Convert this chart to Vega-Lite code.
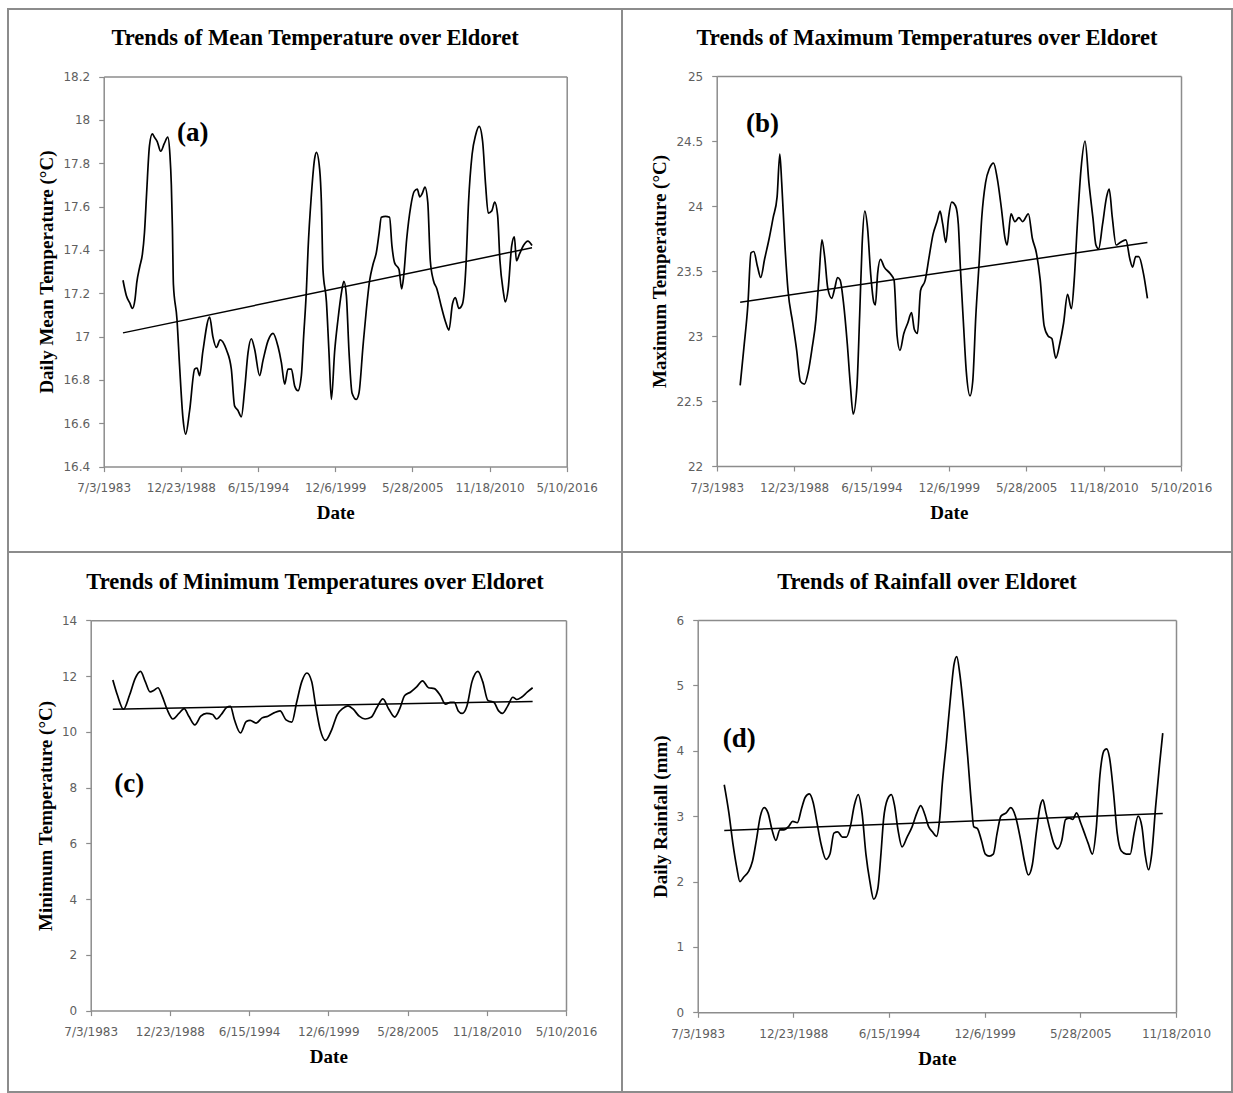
{
  "$schema": "https://vega.github.io/schema/vega-lite/v6.json",
  "padding": {"left": 7, "top": 8, "right": 0, "bottom": 0},
  "background": "white",
  "datasets": {
    "meanTemp": [
      {"date": "1984-11-14", "value": 17.26}, {"date": "1985-02-08", "value": 17.19}, {"date": "1985-05-08", "value": 17.155},
      {"date": "1985-07-19", "value": 17.13}, {"date": "1985-09-20", "value": 17.17}, {"date": "1985-11-07", "value": 17.25},
      {"date": "1986-01-19", "value": 17.32}, {"date": "1986-04-01", "value": 17.38}, {"date": "1986-05-25", "value": 17.48},
      {"date": "1986-07-19", "value": 17.66}, {"date": "1986-10-01", "value": 17.88}, {"date": "1986-12-13", "value": 17.935},
      {"date": "1987-02-07", "value": 17.92}, {"date": "1987-04-20", "value": 17.9}, {"date": "1987-07-19", "value": 17.855},
      {"date": "1987-10-19", "value": 17.89}, {"date": "1988-01-19", "value": 17.92}, {"date": "1988-03-14", "value": 17.84},
      {"date": "1988-04-20", "value": 17.7}, {"date": "1988-05-18", "value": 17.5}, {"date": "1988-06-13", "value": 17.24},
      {"date": "1988-09-13", "value": 17.08}, {"date": "1988-11-21", "value": 16.86}, {"date": "1989-02-17", "value": 16.62},
      {"date": "1989-04-27", "value": 16.55}, {"date": "1989-08-08", "value": 16.66}, {"date": "1989-12-15", "value": 16.85},
      {"date": "1990-02-15", "value": 16.855}, {"date": "1990-04-23", "value": 16.82}, {"date": "1990-07-15", "value": 16.93},
      {"date": "1991-01-08", "value": 17.09}, {"date": "1991-04-01", "value": 17.0}, {"date": "1991-07-01", "value": 16.95},
      {"date": "1991-10-08", "value": 16.985}, {"date": "1992-03-15", "value": 16.94}, {"date": "1992-07-23", "value": 16.85},
      {"date": "1992-10-15", "value": 16.68}, {"date": "1993-01-08", "value": 16.66}, {"date": "1993-04-08", "value": 16.63},
      {"date": "1993-07-05", "value": 16.76}, {"date": "1993-09-28", "value": 16.925}, {"date": "1993-12-23", "value": 16.99},
      {"date": "1994-03-20", "value": 16.94}, {"date": "1994-07-26", "value": 16.82}, {"date": "1994-10-22", "value": 16.89},
      {"date": "1995-02-28", "value": 16.98}, {"date": "1995-07-08", "value": 17.015}, {"date": "1995-11-14", "value": 16.955},
      {"date": "1996-02-10", "value": 16.88}, {"date": "1996-05-07", "value": 16.78}, {"date": "1996-07-30", "value": 16.85},
      {"date": "1996-10-26", "value": 16.85}, {"date": "1997-01-23", "value": 16.77}, {"date": "1997-04-15", "value": 16.75},
      {"date": "1997-07-12", "value": 16.82}, {"date": "1997-09-09", "value": 17.0}, {"date": "1997-11-21", "value": 17.22},
      {"date": "1998-01-01", "value": 17.4}, {"date": "1998-03-27", "value": 17.65}, {"date": "1998-06-20", "value": 17.82},
      {"date": "1998-08-07", "value": 17.85}, {"date": "1998-10-30", "value": 17.77}, {"date": "1998-12-13", "value": 17.62},
      {"date": "1999-01-23", "value": 17.31}, {"date": "1999-04-23", "value": 17.16}, {"date": "1999-06-27", "value": 16.93},
      {"date": "1999-08-29", "value": 16.71}, {"date": "1999-11-21", "value": 16.93}, {"date": "2000-02-17", "value": 17.08},
      {"date": "2000-05-14", "value": 17.2}, {"date": "2000-07-19", "value": 17.255}, {"date": "2000-09-20", "value": 17.19},
      {"date": "2000-11-28", "value": 16.93}, {"date": "2001-02-14", "value": 16.74}, {"date": "2001-06-06", "value": 16.71},
      {"date": "2001-08-14", "value": 16.74}, {"date": "2001-11-25", "value": 16.955}, {"date": "2002-02-21", "value": 17.125},
      {"date": "2002-05-18", "value": 17.26}, {"date": "2002-08-08", "value": 17.33}, {"date": "2002-11-08", "value": 17.39},
      {"date": "2003-01-19", "value": 17.48}, {"date": "2003-03-15", "value": 17.55}, {"date": "2003-07-01", "value": 17.555},
      {"date": "2003-10-15", "value": 17.55}, {"date": "2003-12-15", "value": 17.42}, {"date": "2004-02-23", "value": 17.34},
      {"date": "2004-06-15", "value": 17.31}, {"date": "2004-08-23", "value": 17.22}, {"date": "2004-10-15", "value": 17.28},
      {"date": "2005-01-01", "value": 17.45}, {"date": "2005-04-15", "value": 17.6}, {"date": "2005-07-15", "value": 17.67},
      {"date": "2005-10-01", "value": 17.68}, {"date": "2005-12-06", "value": 17.645}, {"date": "2006-02-08", "value": 17.66},
      {"date": "2006-04-20", "value": 17.69}, {"date": "2006-07-01", "value": 17.62}, {"date": "2006-09-05", "value": 17.35},
      {"date": "2006-11-23", "value": 17.26}, {"date": "2007-02-23", "value": 17.22}, {"date": "2007-06-15", "value": 17.14},
      {"date": "2007-10-01", "value": 17.07}, {"date": "2008-01-01", "value": 17.03}, {"date": "2008-04-01", "value": 17.15},
      {"date": "2008-06-15", "value": 17.18}, {"date": "2008-09-15", "value": 17.13}, {"date": "2008-12-15", "value": 17.15},
      {"date": "2009-03-15", "value": 17.32}, {"date": "2009-05-23", "value": 17.62}, {"date": "2009-08-23", "value": 17.84},
      {"date": "2009-11-23", "value": 17.93}, {"date": "2010-02-23", "value": 17.97}, {"date": "2010-05-23", "value": 17.9},
      {"date": "2010-08-08", "value": 17.7}, {"date": "2010-10-15", "value": 17.57}, {"date": "2011-01-15", "value": 17.58},
      {"date": "2011-04-01", "value": 17.62}, {"date": "2011-06-15", "value": 17.56}, {"date": "2011-08-15", "value": 17.35},
      {"date": "2011-11-08", "value": 17.21}, {"date": "2012-01-01", "value": 17.16}, {"date": "2012-03-15", "value": 17.22},
      {"date": "2012-06-15", "value": 17.42}, {"date": "2012-08-23", "value": 17.46}, {"date": "2012-10-15", "value": 17.35},
      {"date": "2013-01-01", "value": 17.38}, {"date": "2013-04-15", "value": 17.42}, {"date": "2013-08-08", "value": 17.44},
      {"date": "2013-11-23", "value": 17.42}
    ],
    "meanTrend": [
      {"date": "1984-11-14", "value": 17.017}, {"date": "2013-11-23", "value": 17.41}
    ],
    "maxTemp": [
      {"date": "1985-02-28", "value": 22.62}, {"date": "1985-06-05", "value": 22.91}, {"date": "1985-09-16", "value": 23.24},
      {"date": "1985-12-05", "value": 23.64}, {"date": "1986-02-14", "value": 23.65}, {"date": "1986-05-25", "value": 23.53},
      {"date": "1986-08-14", "value": 23.45}, {"date": "1986-11-21", "value": 23.59}, {"date": "1987-03-20", "value": 23.75},
      {"date": "1987-07-01", "value": 23.91}, {"date": "1987-10-11", "value": 24.07}, {"date": "1987-12-20", "value": 24.4},
      {"date": "1988-02-07", "value": 24.18}, {"date": "1988-04-30", "value": 23.7}, {"date": "1988-07-19", "value": 23.35},
      {"date": "1988-11-18", "value": 23.1}, {"date": "1989-02-28", "value": 22.89}, {"date": "1989-06-06", "value": 22.65},
      {"date": "1989-09-16", "value": 22.63}, {"date": "1989-12-27", "value": 22.73}, {"date": "1990-04-04", "value": 22.91},
      {"date": "1990-07-12", "value": 23.13}, {"date": "1990-09-24", "value": 23.43}, {"date": "1990-12-13", "value": 23.74},
      {"date": "1991-02-21", "value": 23.61}, {"date": "1991-05-11", "value": 23.37}, {"date": "1991-08-22", "value": 23.29},
      {"date": "1991-11-11", "value": 23.37}, {"date": "1992-01-19", "value": 23.45}, {"date": "1992-03-28", "value": 23.43},
      {"date": "1992-06-20", "value": 23.26}, {"date": "1992-09-28", "value": 22.94}, {"date": "1992-12-17", "value": 22.62},
      {"date": "1993-02-28", "value": 22.4}, {"date": "1993-06-06", "value": 22.62}, {"date": "1993-08-14", "value": 23.16},
      {"date": "1993-10-16", "value": 23.7}, {"date": "1993-12-24", "value": 23.96}, {"date": "1994-03-06", "value": 23.83},
      {"date": "1994-05-25", "value": 23.48}, {"date": "1994-08-14", "value": 23.26}, {"date": "1994-09-24", "value": 23.24},
      {"date": "1994-11-21", "value": 23.48}, {"date": "1995-02-03", "value": 23.59}, {"date": "1995-05-11", "value": 23.53},
      {"date": "1995-10-11", "value": 23.48}, {"date": "1996-01-19", "value": 23.43}, {"date": "1996-04-08", "value": 23.0},
      {"date": "1996-06-20", "value": 22.89}, {"date": "1996-09-28", "value": 23.02}, {"date": "1997-01-08", "value": 23.1},
      {"date": "1997-04-15", "value": 23.18}, {"date": "1997-06-27", "value": 23.05}, {"date": "1997-09-16", "value": 23.02},
      {"date": "1997-12-05", "value": 23.35}, {"date": "1998-04-04", "value": 23.43}, {"date": "1998-07-15", "value": 23.61},
      {"date": "1998-10-22", "value": 23.78}, {"date": "1999-02-03", "value": 23.88}, {"date": "1999-04-23", "value": 23.96},
      {"date": "1999-07-01", "value": 23.86}, {"date": "1999-09-20", "value": 23.72}, {"date": "1999-11-28", "value": 23.91},
      {"date": "2000-02-17", "value": 24.03}, {"date": "2000-05-28", "value": 24.0}, {"date": "2000-08-07", "value": 23.86},
      {"date": "2000-09-28", "value": 23.53}, {"date": "2000-12-17", "value": 23.1}, {"date": "2001-02-28", "value": 22.73},
      {"date": "2001-06-06", "value": 22.54}, {"date": "2001-08-14", "value": 22.65}, {"date": "2001-11-03", "value": 23.16},
      {"date": "2002-01-26", "value": 23.56}, {"date": "2002-04-04", "value": 23.91}, {"date": "2002-07-12", "value": 24.18},
      {"date": "2002-10-22", "value": 24.29}, {"date": "2003-02-03", "value": 24.33}, {"date": "2003-05-11", "value": 24.21},
      {"date": "2003-08-22", "value": 23.99}, {"date": "2003-11-28", "value": 23.75}, {"date": "2004-01-19", "value": 23.7},
      {"date": "2004-04-30", "value": 23.94}, {"date": "2004-08-07", "value": 23.88}, {"date": "2004-11-18", "value": 23.91},
      {"date": "2005-02-25", "value": 23.88}, {"date": "2005-07-23", "value": 23.94}, {"date": "2005-11-03", "value": 23.75},
      {"date": "2006-02-14", "value": 23.64}, {"date": "2006-05-25", "value": 23.43}, {"date": "2006-09-02", "value": 23.08},
      {"date": "2006-12-13", "value": 23.0}, {"date": "2007-03-20", "value": 22.98}, {"date": "2007-07-01", "value": 22.83},
      {"date": "2007-10-11", "value": 22.94}, {"date": "2008-01-19", "value": 23.1}, {"date": "2008-04-30", "value": 23.32},
      {"date": "2008-08-07", "value": 23.21}, {"date": "2008-10-19", "value": 23.43}, {"date": "2009-01-08", "value": 23.86},
      {"date": "2009-04-15", "value": 24.29}, {"date": "2009-07-26", "value": 24.5}, {"date": "2009-11-03", "value": 24.18},
      {"date": "2010-02-14", "value": 23.91}, {"date": "2010-05-03", "value": 23.7}, {"date": "2010-07-12", "value": 23.67},
      {"date": "2010-10-22", "value": 23.86}, {"date": "2011-02-03", "value": 24.07}, {"date": "2011-04-11", "value": 24.13},
      {"date": "2011-07-01", "value": 23.91}, {"date": "2011-10-08", "value": 23.7}, {"date": "2012-01-19", "value": 23.72},
      {"date": "2012-06-16", "value": 23.74}, {"date": "2012-09-28", "value": 23.59}, {"date": "2012-12-05", "value": 23.53},
      {"date": "2013-02-25", "value": 23.61}, {"date": "2013-05-14", "value": 23.61}, {"date": "2013-09-13", "value": 23.48},
      {"date": "2013-12-24", "value": 23.29}
    ],
    "maxTrend": [
      {"date": "1985-02-28", "value": 23.26}, {"date": "2013-12-24", "value": 23.72}
    ],
    "minTemp": [
      {"date": "1985-01-12", "value": 11.86}, {"date": "1985-05-11", "value": 11.3}, {"date": "1985-10-08", "value": 10.81},
      {"date": "1986-03-06", "value": 11.3}, {"date": "1986-08-03", "value": 11.93}, {"date": "1986-12-13", "value": 12.17},
      {"date": "1987-04-11", "value": 11.8}, {"date": "1987-08-10", "value": 11.43}, {"date": "1987-11-18", "value": 11.49},
      {"date": "1988-02-25", "value": 11.58}, {"date": "1988-06-06", "value": 11.3}, {"date": "1988-10-11", "value": 10.81},
      {"date": "1989-03-09", "value": 10.46}, {"date": "1989-08-07", "value": 10.66}, {"date": "1989-12-17", "value": 10.83},
      {"date": "1990-04-15", "value": 10.56}, {"date": "1990-09-13", "value": 10.25}, {"date": "1991-02-10", "value": 10.56},
      {"date": "1991-07-08", "value": 10.66}, {"date": "1991-12-05", "value": 10.62}, {"date": "1992-03-14", "value": 10.46},
      {"date": "1992-07-12", "value": 10.62}, {"date": "1992-11-21", "value": 10.87}, {"date": "1993-02-28", "value": 10.91},
      {"date": "1993-06-09", "value": 10.43}, {"date": "1993-11-07", "value": 9.96}, {"date": "1994-04-04", "value": 10.37},
      {"date": "1994-07-12", "value": 10.41}, {"date": "1994-12-09", "value": 10.31}, {"date": "1995-05-08", "value": 10.5},
      {"date": "1995-10-04", "value": 10.56}, {"date": "1996-03-03", "value": 10.68}, {"date": "1996-08-04", "value": 10.75},
      {"date": "1997-01-01", "value": 10.43}, {"date": "1997-05-29", "value": 10.35}, {"date": "1997-09-27", "value": 11.06},
      {"date": "1998-02-03", "value": 11.8}, {"date": "1998-06-13", "value": 12.11}, {"date": "1998-10-12", "value": 11.8},
      {"date": "1999-01-19", "value": 10.93}, {"date": "1999-05-18", "value": 10.06}, {"date": "1999-09-24", "value": 9.69},
      {"date": "2000-02-25", "value": 10.06}, {"date": "2000-07-19", "value": 10.62}, {"date": "2000-11-28", "value": 10.83},
      {"date": "2001-04-16", "value": 10.93}, {"date": "2001-08-25", "value": 10.81}, {"date": "2002-01-23", "value": 10.56},
      {"date": "2002-06-20", "value": 10.46}, {"date": "2002-11-18", "value": 10.52}, {"date": "2003-04-16", "value": 10.87},
      {"date": "2003-09-13", "value": 11.18}, {"date": "2004-02-10", "value": 10.81}, {"date": "2004-07-08", "value": 10.53},
      {"date": "2004-11-07", "value": 10.81}, {"date": "2005-03-17", "value": 11.3}, {"date": "2005-08-15", "value": 11.43},
      {"date": "2006-01-12", "value": 11.61}, {"date": "2006-06-10", "value": 11.83}, {"date": "2006-11-07", "value": 11.58},
      {"date": "2007-04-05", "value": 11.55}, {"date": "2007-09-02", "value": 11.3}, {"date": "2008-01-12", "value": 10.99},
      {"date": "2008-05-12", "value": 11.06}, {"date": "2008-08-18", "value": 11.06}, {"date": "2008-11-28", "value": 10.75},
      {"date": "2009-03-07", "value": 10.66}, {"date": "2009-07-05", "value": 10.93}, {"date": "2009-11-10", "value": 11.8},
      {"date": "2010-04-08", "value": 12.17}, {"date": "2010-08-07", "value": 11.8}, {"date": "2010-12-17", "value": 11.12},
      {"date": "2011-05-15", "value": 11.06}, {"date": "2011-09-13", "value": 10.75}, {"date": "2011-12-21", "value": 10.66},
      {"date": "2012-05-01", "value": 10.93}, {"date": "2012-09-06", "value": 11.24}, {"date": "2012-12-17", "value": 11.16},
      {"date": "2013-04-13", "value": 11.24}, {"date": "2013-09-10", "value": 11.43}, {"date": "2014-01-19", "value": 11.58}
    ],
    "minTrend": [
      {"date": "1985-01-12", "value": 10.81}, {"date": "2014-01-19", "value": 11.09}
    ],
    "rain": [
      {"date": "1985-01-08", "value": 3.48}, {"date": "1985-04-15", "value": 3.05}, {"date": "1985-07-08", "value": 2.58},
      {"date": "1985-09-28", "value": 2.21}, {"date": "1985-12-01", "value": 2.0}, {"date": "1986-02-21", "value": 2.07},
      {"date": "1986-05-29", "value": 2.15}, {"date": "1986-08-21", "value": 2.31}, {"date": "1986-11-10", "value": 2.63},
      {"date": "1987-02-02", "value": 3.0}, {"date": "1987-04-23", "value": 3.13}, {"date": "1987-07-12", "value": 3.05},
      {"date": "1987-10-04", "value": 2.79}, {"date": "1987-12-24", "value": 2.63}, {"date": "1988-03-17", "value": 2.79},
      {"date": "1988-06-06", "value": 2.79}, {"date": "1988-09-13", "value": 2.84}, {"date": "1988-12-09", "value": 2.92},
      {"date": "1989-03-17", "value": 2.9}, {"date": "1989-06-10", "value": 3.11}, {"date": "1989-08-29", "value": 3.29},
      {"date": "1989-11-21", "value": 3.34}, {"date": "1990-02-10", "value": 3.21}, {"date": "1990-05-01", "value": 2.9},
      {"date": "1990-07-23", "value": 2.58}, {"date": "1990-11-07", "value": 2.34}, {"date": "1991-01-27", "value": 2.42},
      {"date": "1991-04-20", "value": 2.74}, {"date": "1991-07-08", "value": 2.76}, {"date": "1991-10-15", "value": 2.68},
      {"date": "1992-01-05", "value": 2.68}, {"date": "1992-03-28", "value": 2.84}, {"date": "1992-06-18", "value": 3.16},
      {"date": "1992-09-09", "value": 3.33}, {"date": "1992-11-28", "value": 3.05}, {"date": "1993-02-17", "value": 2.42},
      {"date": "1993-05-11", "value": 2.0}, {"date": "1993-07-30", "value": 1.73}, {"date": "1993-10-23", "value": 1.89},
      {"date": "1993-12-28", "value": 2.42}, {"date": "1994-02-21", "value": 2.95}, {"date": "1994-05-15", "value": 3.26},
      {"date": "1994-08-04", "value": 3.33}, {"date": "1994-10-09", "value": 3.16}, {"date": "1994-12-20", "value": 2.79},
      {"date": "1995-03-14", "value": 2.53}, {"date": "1995-06-28", "value": 2.68}, {"date": "1995-10-12", "value": 2.84},
      {"date": "1996-01-19", "value": 3.05}, {"date": "1996-04-08", "value": 3.16}, {"date": "1996-07-01", "value": 3.03},
      {"date": "1996-09-20", "value": 2.84}, {"date": "1996-12-09", "value": 2.76}, {"date": "1997-03-03", "value": 2.69},
      {"date": "1997-05-08", "value": 2.95}, {"date": "1997-07-01", "value": 3.48}, {"date": "1997-09-24", "value": 4.11},
      {"date": "1997-12-13", "value": 4.75}, {"date": "1998-03-07", "value": 5.33}, {"date": "1998-05-01", "value": 5.44},
      {"date": "1998-07-05", "value": 5.17}, {"date": "1998-09-27", "value": 4.59}, {"date": "1998-12-17", "value": 3.9},
      {"date": "1999-03-07", "value": 3.16}, {"date": "1999-04-20", "value": 2.84}, {"date": "1999-07-08", "value": 2.81},
      {"date": "1999-09-28", "value": 2.63}, {"date": "1999-12-20", "value": 2.42}, {"date": "2000-03-10", "value": 2.39},
      {"date": "2000-06-03", "value": 2.42}, {"date": "2000-08-22", "value": 2.74}, {"date": "2000-11-10", "value": 3.0},
      {"date": "2001-02-28", "value": 3.05}, {"date": "2001-06-03", "value": 3.13}, {"date": "2001-09-09", "value": 3.0},
      {"date": "2001-12-28", "value": 2.63}, {"date": "2002-03-17", "value": 2.31}, {"date": "2002-06-06", "value": 2.1},
      {"date": "2002-08-29", "value": 2.26}, {"date": "2002-11-18", "value": 2.74}, {"date": "2003-02-10", "value": 3.16},
      {"date": "2003-04-05", "value": 3.25}, {"date": "2003-06-10", "value": 3.05}, {"date": "2003-09-02", "value": 2.79},
      {"date": "2003-11-21", "value": 2.58}, {"date": "2004-02-10", "value": 2.5}, {"date": "2004-05-05", "value": 2.63},
      {"date": "2004-07-23", "value": 2.95}, {"date": "2004-10-15", "value": 2.97}, {"date": "2004-12-20", "value": 2.95},
      {"date": "2005-03-10", "value": 3.05}, {"date": "2005-06-03", "value": 2.9}, {"date": "2005-08-22", "value": 2.74},
      {"date": "2005-11-10", "value": 2.58}, {"date": "2006-02-03", "value": 2.42}, {"date": "2006-04-23", "value": 2.79},
      {"date": "2006-07-12", "value": 3.63}, {"date": "2006-10-04", "value": 4.0}, {"date": "2006-11-28", "value": 4.03},
      {"date": "2007-01-27", "value": 3.9}, {"date": "2007-04-20", "value": 3.37}, {"date": "2007-07-08", "value": 2.74},
      {"date": "2007-09-28", "value": 2.47}, {"date": "2008-01-12", "value": 2.42}, {"date": "2008-04-05", "value": 2.42},
      {"date": "2008-06-25", "value": 2.74}, {"date": "2008-09-17", "value": 3.0}, {"date": "2008-12-05", "value": 2.84},
      {"date": "2009-02-10", "value": 2.42}, {"date": "2009-04-23", "value": 2.18}, {"date": "2009-06-28", "value": 2.42},
      {"date": "2009-09-20", "value": 3.16}, {"date": "2009-12-09", "value": 3.79}, {"date": "2010-02-14", "value": 4.27}
    ],
    "rainTrend": [
      {"date": "1985-01-08", "value": 2.78}, {"date": "2010-02-14", "value": 3.04}
    ]
  },
  "concat": [
    {
      "width": 614,
      "height": 543,
      "title": {"text": "Trends of Mean Temperature over Eldoret", "offset": -40},
      "layer": [
        {
          "data": {"name": "meanTemp"},
          "mark": {"type": "line", "color": "#000000", "strokeWidth": 1.7, "interpolate": "monotone"},
          "encoding": {
            "x": {
              "field": "date", "type": "temporal",
              "scale": {"domain": [{"year": 1983, "month": 7, "date": 3}, {"year": 2016, "month": 5, "date": 10}], "range": [95.7, 558.7], "nice": false},
              "axis": {
                "orient": "bottom", "offset": -85.4, "title": "Date", "format": "%-m/%-d/%Y",
                "values": [{"year": 1983, "month": 7, "date": 3}, {"year": 1988, "month": 12, "date": 23}, {"year": 1994, "month": 6, "date": 15}, {"year": 1999, "month": 12, "date": 6}, {"year": 2005, "month": 5, "date": 28}, {"year": 2010, "month": 11, "date": 18}, {"year": 2016, "month": 5, "date": 10}],
                "labelPadding": 11, "titlePadding": 10
              }
            },
            "y": {
              "field": "value", "type": "quantitative",
              "scale": {"domain": [16.4, 18.2], "range": [457.6, 67.5], "nice": false, "zero": false},
              "axis": {
                "orient": "left", "offset": -95.7, "title": "Daily Mean Temperature (°C)", "format": "~g",
                "values": [16.4, 16.6, 16.8, 17, 17.2, 17.4, 17.6, 17.8, 18, 18.2],
                "labelPadding": 9, "titlePadding": 6
              }
            }
          }
        },
        {
          "data": {"name": "meanTrend"},
          "mark": {"type": "line", "color": "#000000", "strokeWidth": 1.5},
          "encoding": {
            "x": {"field": "date", "type": "temporal", "axis": {"orient": "top", "offset": -67.5, "labels": false, "ticks": false, "title": null}},
            "y": {"field": "value", "type": "quantitative", "axis": {"orient": "right", "offset": -55.3, "labels": false, "ticks": false, "title": null}}
          }
        },
        {
          "data": {"values": [{}]},
          "mark": {"type": "text", "text": "(a)", "font": "Liberation Serif", "fontSize": 27, "fontWeight": "bold", "align": "center", "baseline": "middle"},
          "encoding": {
            "x": {"datum": {"year": 1989, "month": 10, "date": 27}, "type": "temporal", "axis": null},
            "y": {"datum": 17.94, "type": "quantitative", "axis": null}
          }
        }
      ],
      "resolve": {"axis": {"x": "independent", "y": "independent"}}
    },
    {
      "width": 610,
      "height": 543,
      "title": {"text": "Trends of Maximum Temperatures over Eldoret", "offset": -40},
      "layer": [
        {
          "data": {"name": "maxTemp"},
          "mark": {"type": "line", "color": "#000000", "strokeWidth": 1.7, "interpolate": "monotone"},
          "encoding": {
            "x": {
              "field": "date", "type": "temporal",
              "scale": {"domain": [{"year": 1983, "month": 7, "date": 3}, {"year": 2016, "month": 5, "date": 10}], "range": [94.7, 559], "nice": false},
              "axis": {
                "orient": "bottom", "offset": -86, "title": "Date", "format": "%-m/%-d/%Y",
                "values": [{"year": 1983, "month": 7, "date": 3}, {"year": 1988, "month": 12, "date": 23}, {"year": 1994, "month": 6, "date": 15}, {"year": 1999, "month": 12, "date": 6}, {"year": 2005, "month": 5, "date": 28}, {"year": 2010, "month": 11, "date": 18}, {"year": 2016, "month": 5, "date": 10}],
                "labelPadding": 11, "titlePadding": 10
              }
            },
            "y": {
              "field": "value", "type": "quantitative",
              "scale": {"domain": [22, 25], "range": [457, 67], "nice": false, "zero": false},
              "axis": {
                "orient": "left", "offset": -94.7, "title": "Maximum Temperature (°C)", "format": "~g",
                "values": [22, 22.5, 23, 23.5, 24, 24.5, 25],
                "labelPadding": 9, "titlePadding": 6
              }
            }
          }
        },
        {
          "data": {"name": "maxTrend"},
          "mark": {"type": "line", "color": "#000000", "strokeWidth": 1.5},
          "encoding": {
            "x": {"field": "date", "type": "temporal", "axis": {"orient": "top", "offset": -67, "labels": false, "ticks": false, "title": null}},
            "y": {"field": "value", "type": "quantitative", "axis": {"orient": "right", "offset": -51, "labels": false, "ticks": false, "title": null}}
          }
        },
        {
          "data": {"values": [{}]},
          "mark": {"type": "text", "text": "(b)", "font": "Liberation Serif", "fontSize": 27, "fontWeight": "bold", "align": "center", "baseline": "middle"},
          "encoding": {
            "x": {"datum": {"year": 1986, "month": 9, "date": 27}, "type": "temporal", "axis": null},
            "y": {"datum": 24.63, "type": "quantitative", "axis": null}
          }
        }
      ],
      "resolve": {"axis": {"x": "independent", "y": "independent"}}
    },
    {
      "width": 614,
      "height": 540,
      "title": {"text": "Trends of Minimum Temperatures over Eldoret", "offset": -41},
      "layer": [
        {
          "data": {"name": "minTemp"},
          "mark": {"type": "line", "color": "#000000", "strokeWidth": 1.7, "interpolate": "monotone"},
          "encoding": {
            "x": {
              "field": "date", "type": "temporal",
              "scale": {"domain": [{"year": 1983, "month": 7, "date": 3}, {"year": 2016, "month": 5, "date": 10}], "range": [82.7, 558], "nice": false},
              "axis": {
                "orient": "bottom", "offset": -81.4, "title": "Date", "format": "%-m/%-d/%Y",
                "values": [{"year": 1983, "month": 7, "date": 3}, {"year": 1988, "month": 12, "date": 23}, {"year": 1994, "month": 6, "date": 15}, {"year": 1999, "month": 12, "date": 6}, {"year": 2005, "month": 5, "date": 28}, {"year": 2010, "month": 11, "date": 18}, {"year": 2016, "month": 5, "date": 10}],
                "labelPadding": 11, "titlePadding": 10
              }
            },
            "y": {
              "field": "value", "type": "quantitative",
              "scale": {"domain": [0, 14], "range": [458.6, 68.3], "nice": false, "zero": false},
              "axis": {
                "orient": "left", "offset": -82.7, "title": "Minimum Temperature (°C)", "format": "~g",
                "values": [0, 2, 4, 6, 8, 10, 12, 14],
                "labelPadding": 9, "titlePadding": 6
              }
            }
          }
        },
        {
          "data": {"name": "minTrend"},
          "mark": {"type": "line", "color": "#000000", "strokeWidth": 1.5},
          "encoding": {
            "x": {"field": "date", "type": "temporal", "axis": {"orient": "top", "offset": -68.3, "labels": false, "ticks": false, "title": null}},
            "y": {"field": "value", "type": "quantitative", "axis": {"orient": "right", "offset": -56, "labels": false, "ticks": false, "title": null}}
          }
        },
        {
          "data": {"values": [{}]},
          "mark": {"type": "text", "text": "(c)", "font": "Liberation Serif", "fontSize": 27, "fontWeight": "bold", "align": "center", "baseline": "middle"},
          "encoding": {
            "x": {"datum": {"year": 1986, "month": 3, "date": 3}, "type": "temporal", "axis": null},
            "y": {"datum": 8.14, "type": "quantitative", "axis": null}
          }
        }
      ],
      "resolve": {"axis": {"x": "independent", "y": "independent"}}
    },
    {
      "width": 610,
      "height": 540,
      "title": {"text": "Trends of Rainfall over Eldoret", "offset": -41},
      "layer": [
        {
          "data": {"name": "rain"},
          "mark": {"type": "line", "color": "#000000", "strokeWidth": 1.7, "interpolate": "monotone"},
          "encoding": {
            "x": {
              "field": "date", "type": "temporal",
              "scale": {"domain": [{"year": 1983, "month": 7, "date": 3}, {"year": 2010, "month": 11, "date": 18}], "range": [75.7, 554], "nice": false},
              "axis": {
                "orient": "bottom", "offset": -79.7, "title": "Date", "format": "%-m/%-d/%Y",
                "values": [{"year": 1983, "month": 7, "date": 3}, {"year": 1988, "month": 12, "date": 23}, {"year": 1994, "month": 6, "date": 15}, {"year": 1999, "month": 12, "date": 6}, {"year": 2005, "month": 5, "date": 28}, {"year": 2010, "month": 11, "date": 18}],
                "labelPadding": 11, "titlePadding": 10
              }
            },
            "y": {
              "field": "value", "type": "quantitative",
              "scale": {"domain": [0, 6], "range": [460.3, 68], "nice": false, "zero": false},
              "axis": {
                "orient": "left", "offset": -75.7, "title": "Daily Rainfall (mm)", "format": "~g",
                "values": [0, 1, 2, 3, 4, 5, 6],
                "labelPadding": 9, "titlePadding": 6
              }
            }
          }
        },
        {
          "data": {"name": "rainTrend"},
          "mark": {"type": "line", "color": "#000000", "strokeWidth": 1.5},
          "encoding": {
            "x": {"field": "date", "type": "temporal", "axis": {"orient": "top", "offset": -68, "labels": false, "ticks": false, "title": null}},
            "y": {"field": "value", "type": "quantitative", "axis": {"orient": "right", "offset": -56, "labels": false, "ticks": false, "title": null}}
          }
        },
        {
          "data": {"values": [{}]},
          "mark": {"type": "text", "text": "(d)", "font": "Liberation Serif", "fontSize": 27, "fontWeight": "bold", "align": "center", "baseline": "middle"},
          "encoding": {
            "x": {"datum": {"year": 1985, "month": 11, "date": 17}, "type": "temporal", "axis": null},
            "y": {"datum": 4.18, "type": "quantitative", "axis": null}
          }
        }
      ],
      "resolve": {"axis": {"x": "independent", "y": "independent"}}
    }
  ],
  "columns": 2,
  "spacing": 0,
  "bounds": "flush",
  "config": {
    "view": {"stroke": "#8c8c8c", "strokeWidth": 2},
    "axis": {
      "grid": false,
      "domainColor": "#8c8c8c", "domainWidth": 1.5,
      "tickColor": "#8c8c8c", "tickWidth": 1.2, "tickSize": 5,
      "labelFont": "DejaVu Sans", "labelFontSize": 12, "labelColor": "#5f5f5f",
      "labelOverlap": false, "labelFlush": false,
      "titleFont": "Liberation Serif", "titleFontSize": 19, "titleFontWeight": "bold", "titleColor": "#000000"
    },
    "title": {"font": "Liberation Serif", "fontSize": 22.5, "fontWeight": "bold", "color": "#000000", "anchor": "middle", "baseline": "alphabetic"}
  }
}
